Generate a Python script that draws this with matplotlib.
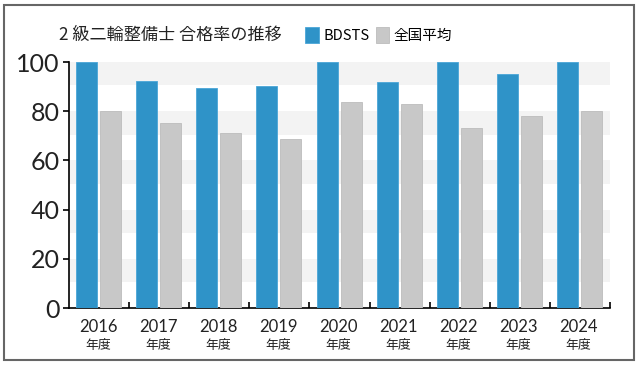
import matplotlib.pyplot as plt
import matplotlib.patches as patches
import numpy as np

plt.rcParams['font.family'] = ['Noto Sans CJK JP', 'DejaVu Sans']

years = ['2016', '2017', '2018', '2019', '2020', '2021', '2022', '2023', '2024']
bdsts = [100, 92.1, 89.3, 90.4, 100, 91.7, 100, 95.2, 100]
national = [80.1, 75.3, 71.0, 68.8, 83.7, 83.0, 73.0, 78.0, 80.1]

blue = '#2f93c8'
grey = '#c8c8c8'
num_font = ['Lato', 'DejaVu Sans']

fig = plt.figure(figsize=(6.4, 3.65), dpi=100)
ax = fig.add_axes([0.108, 0.156, 0.845, 0.674])

x = np.arange(len(years))
ax.bar(x + 0.117, bdsts, width=0.35, align='edge', color=blue,
       edgecolor='#4aa6d8', linewidth=0.6, label='BDSTS', zorder=3)
ax.bar(x + 0.517, national, width=0.35, align='edge', color=grey,
       edgecolor='#bcbcbc', linewidth=0.6, label='全国平均', zorder=3)

# light stripes under each gridline
for top in [100, 80, 60, 40, 20]:
    ax.axhspan(top - 9.5, top, color='#f3f3f3', lw=0, zorder=0)

ax.set_xlim(0, len(years))
ax.set_ylim(0, 100)
ax.set_yticks([0, 20, 40, 60, 80, 100])
ax.set_xticks(np.arange(1, len(years) + 1))
ax.set_xticklabels([])
ax.tick_params(axis='x', direction='in', length=4, width=1.2)
ax.tick_params(axis='y', direction='out', length=4, width=1.2, pad=3)
for lbl in ax.get_yticklabels():
    lbl.set_family(num_font)
    lbl.set_fontsize(18)
    lbl.set_color('#222222')

for s in ['top', 'right']:
    ax.spines[s].set_visible(False)
for s in ['left', 'bottom']:
    ax.spines[s].set_linewidth(1.2)

for i, y in enumerate(years):
    ax.text(i + 0.48, -0.045, y, transform=ax.get_xaxis_transform(),
            ha='center', va='top', fontsize=12, family=num_font,
            color='#222222')
    ax.text(i + 0.48, -0.125, '年度', transform=ax.get_xaxis_transform(),
            ha='center', va='top', fontsize=9.3, color='#222222')

fig.text(0.092, 0.905, '2 級二輪整備士 合格率の推移', fontsize=12.3,
         va='center', color='#222222')

leg = ax.legend(loc='center left', bbox_to_anchor=(0.468, 0.905),
                bbox_transform=fig.transFigure, ncol=2, frameon=False,
                fontsize=10.5, handlelength=0.95, handleheight=1.3,
                handletextpad=0.3, columnspacing=0.4, borderaxespad=0)

fig.patches.append(patches.Rectangle((0.006, 0.014), 0.985, 0.972,
                                     transform=fig.transFigure, fill=False,
                                     edgecolor='#666666', linewidth=1.5))

fig.savefig('out.png', dpi=100)
